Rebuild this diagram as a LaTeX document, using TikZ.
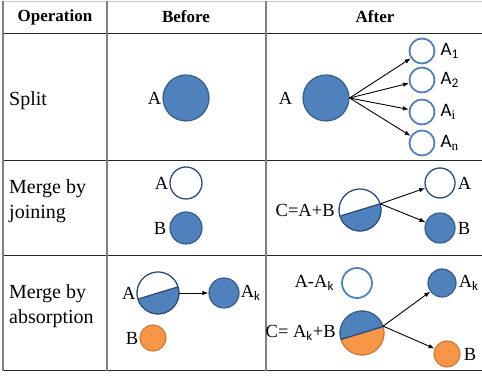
\documentclass[tikz,border=0pt]{standalone}
\usepackage{fontspec}
\setmainfont{Liberation Serif}
\setsansfont{Carlito}
\usetikzlibrary{positioning,arrows.meta}

\definecolor{bluefill}{HTML}{4F81BD}
\definecolor{blueline}{HTML}{385D8A}
\definecolor{navy}{HTML}{2A4B7C}
\definecolor{peach}{HTML}{F79646}
\definecolor{peachline}{HTML}{D07A3A}
\definecolor{gridgray}{HTML}{808080}

\tikzset{
  full/.style={circle, draw=blueline, fill=bluefill, line width=1.2pt, inner sep=0pt},
  ring/.style={circle, draw=bluefill, fill=white, line width=1.8pt, inner sep=0pt},
  hollow/.style={circle, draw=navy, fill=white, line width=1.3pt, inner sep=0pt},
  peachy/.style={circle, draw=peachline, fill=peach, line width=1.2pt, inner sep=0pt},
  spot/.style={circle, inner sep=0pt},
  lbl/.style={font=\fontsize{18.5}{20}\selectfont, inner sep=1pt},
  sublbl/.style={font=\sffamily\fontsize{19}{21}\selectfont, inner sep=1pt},
  head/.style={font=\bfseries\fontsize{17}{20}\selectfont},
  rowlbl/.style={font=\fontsize{20}{25.5}\selectfont, align=left, anchor=west, inner sep=0pt},
  hline/.style={black!85, line width=1pt},
  vline/.style={gridgray, line width=1.3pt},
  link/.style={-{Latex[length=6pt,width=4.5pt]}, line width=0.9pt}
}

% circle cut by a tilted diameter, upper and lower halves coloured apart
\newcommand{\halfdisc}[6]{%
  \fill[#3] (#1.center) circle[radius=#2];
  \fill[#4] ([shift={(17:#2)}]#1.center) arc[start angle=17, delta angle=-180, radius=#2] -- cycle;
  \draw[#5, line width=1.3pt] ([shift={(17:#2)}]#1.center) arc[start angle=17, delta angle=180, radius=#2];
  \draw[#6, line width=1.3pt] ([shift={(17:#2)}]#1.center) arc[start angle=17, delta angle=-180, radius=#2];
  \draw[navy, line width=1.3pt] ([shift={(17:#2)}]#1.center) -- ([shift={(197:#2)}]#1.center);
}

\begin{document}
\begin{tikzpicture}[x=1pt, y=1pt]
    \useasboundingbox (0,0) rectangle (482,377);

    % table
    \draw[gray!40, line width=0.8pt] (3,376) -- (482,376);
    \draw[hline] (3,343) -- (482,343);
    \draw[hline] (3,216) -- (482,216);
    \draw[hline] (3,121) -- (482,121);
    \draw[hline] (3,6) -- (482,6);
    \draw[vline] (3,376) -- (3,6);
    \draw[vline] (107,376) -- (107,6);
    \draw[vline] (266,376) -- (266,6);

    \node[head] (hOp) at (55,360) {Operation};
    \node[head] (hBefore) at (186,360) {Before};
    \node[head] (hAfter) at (375,360) {After};

    \node[rowlbl] (rSplit) at (9,276) {Split};
    \node[rowlbl] (rJoin) at (9,176) {Merge by\\joining};
    \node[rowlbl] (rAbs) at (9,71) {Merge by\\absorption};

    % split
    \node[full, minimum size=46pt] (SA) at (186,279) {};
    \node[lbl, left=0pt of SA] (SAl) {A};
    \node[full, minimum size=46pt] (SA2) at (326,279) {};
    \node[lbl, left=9pt of SA2] (SA2l) {A};
    \node[ring, minimum size=25pt] (S1) at (422,326) {};
    \node[ring, minimum size=25pt] (S2) at (422,297) {};
    \node[ring, minimum size=25pt] (Si) at (422,265) {};
    \node[ring, minimum size=25pt] (Sn) at (422,234) {};
    \node[sublbl, right=4pt of S1] (S1l) {A\textsubscript{1}};
    \node[sublbl, right=4pt of S2] (S2l) {A\textsubscript{2}};
    \node[sublbl, right=4pt of Si] (Sil) {A\textsubscript{\rmfamily i}};
    \node[sublbl, right=4pt of Sn] (Snl) {A\textsubscript{\rmfamily n}};
    \foreach \n in {S1,S2,Si,Sn}
        \draw[link] (SA2.east) -- (\n);

    % merge by joining
    \node[hollow, minimum size=32pt] (JA) at (186,194) {};
    \node[lbl, left=0pt of JA] (JAl) {A};
    \node[full, minimum size=32pt] (JB) at (186,149) {};
    \node[lbl, left=2pt of JB] (JBl) {B};
    \node[spot, minimum size=42pt] (JC) at (360,167) {};
    \halfdisc{JC}{21pt}{white}{bluefill}{navy}{navy}
    \node[lbl, left=3pt of JC] (JCl) {C=A+B};
    \node[hollow, minimum size=30pt] (JA2) at (440,194) {};
    \node[lbl, right=1pt of JA2] (JA2l) {A};
    \node[full, minimum size=30pt] (JB2) at (440,149) {};
    \node[lbl, right=1pt of JB2] (JB2l) {B};
    \draw[link] (JC.17) -- (JA2);
    \draw[link] (JC.17) -- (JB2);

    % merge by absorption
    \node[spot, minimum size=42pt] (XA) at (158,84) {};
    \halfdisc{XA}{21pt}{white}{bluefill}{navy}{navy}
    \node[lbl, left=0pt of XA] (XAl) {A};
    \node[full, minimum size=30pt] (XAk) at (224,84) {};
    \node[lbl, right=0pt of XAk] (XAkl) {A\textsubscript{\sffamily k}};
    \draw[link] (XA.east) -- (XAk);
    \node[peachy, minimum size=26pt] (XB) at (153,39) {};
    \node[lbl, left=0pt of XB] (XBl) {B};
    \node[ring, minimum size=30pt] (XR) at (357,94) {};
    \node[lbl, left=6pt of XR] (XRl) {A-A\textsubscript{\sffamily k}};
    \node[spot, minimum size=44pt] (XC) at (362,44) {};
    \halfdisc{XC}{22pt}{bluefill}{peach}{blueline}{peachline}
    \node[lbl, left=3pt of XC] (XCl) {C= A\textsubscript{\sffamily k}+B};
    \node[full, minimum size=28pt] (XAk2) at (442,94) {};
    \node[lbl, right=1pt of XAk2] (XAk2l) {A\textsubscript{\sffamily k}};
    \node[peachy, minimum size=26pt] (XB2) at (447,23) {};
    \node[lbl, right=2pt of XB2] (XB2l) {B};
    \draw[link] (XC.18) -- (XAk2);
    \draw[link] (XC.18) -- (XB2);
\end{tikzpicture}
\end{document}
